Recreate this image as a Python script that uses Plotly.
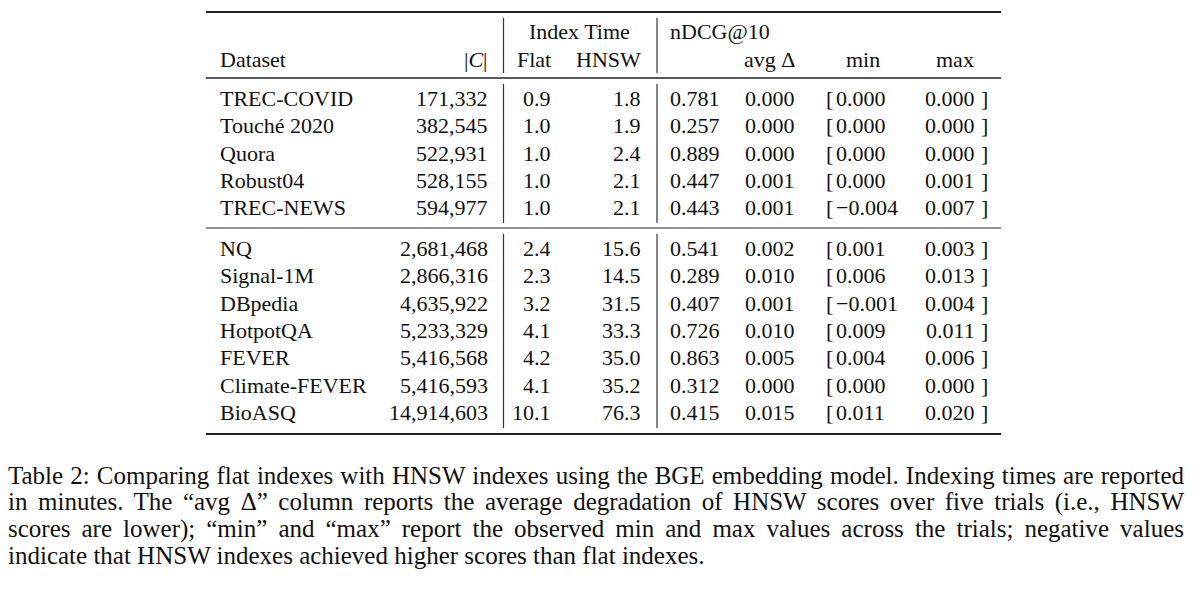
from plotly import graph_objects as go

# table contents
datasets = ['TREC-COVID', 'Touché 2020', 'Quora', 'Robust04', 'TREC-NEWS',
            'NQ', 'Signal-1M', 'DBpedia', 'HotpotQA', 'FEVER', 'Climate-FEVER', 'BioASQ']
corpus_size = ['171,332', '382,545', '522,931', '528,155', '594,977',
               '2,681,468', '2,866,316', '4,635,922', '5,233,329', '5,416,568', '5,416,593', '14,914,603']
flat_time = ['0.9', '1.0', '1.0', '1.0', '1.0', '2.4', '2.3', '3.2', '4.1', '4.2', '4.1', '10.1']
hnsw_time = ['1.8', '1.9', '2.4', '2.1', '2.1', '15.6', '14.5', '31.5', '33.3', '35.0', '35.2', '76.3']
ndcg = ['0.781', '0.257', '0.889', '0.447', '0.443', '0.541', '0.289', '0.407', '0.726', '0.863', '0.312', '0.415']
avg_delta = ['0.000', '0.000', '0.000', '0.001', '0.001', '0.002', '0.010', '0.001', '0.010', '0.005', '0.000', '0.015']
min_delta = ['0.000', '0.000', '0.000', '0.000', '\u22120.004', '0.001', '0.006', '\u22120.001', '0.009', '0.004', '0.000', '0.011']
max_delta = ['0.000', '0.000', '0.000', '0.001', '0.007', '0.003', '0.013', '0.004', '0.011', '0.006', '0.000', '0.020']

caption_lines = [
    'Table 2: Comparing flat indexes with HNSW indexes using the BGE embedding model. Indexing times are reported',
    'in minutes. The \u201cavg \u0394\u201d column reports the average degradation of HNSW scores over five trials (i.e., HNSW',
    'scores are lower); \u201cmin\u201d and \u201cmax\u201d report the observed min and max values across the trials; negative values',
    'indicate that HNSW indexes achieved higher scores than flat indexes.',
]

FONT = 'Liberation Serif, Times New Roman, DejaVu Serif, serif'
SIZE = 22
CAP_SIZE = 25
INK = '#111111'

W, H = 1200, 589
BODY_MARGIN = 8  # default page margin around the plot div
LEFT, RIGHT = 206, 1001
VLINES = [503.5, 657]
CAPTION_WIDTH = 1176  # justified paragraph width, in px


def row_y(i):
    # two groups of rows, small and large corpora, split by a rule
    y = 98.5 + i * 27.3
    if i >= 5:
        y += 13.5
    return y


anns = []


def txt(x, y, s, anchor='left', size=SIZE, xshift=0):
    anns.append(dict(x=x, y=y, xref='x', yref='y', text=s, showarrow=False,
                     xanchor=anchor, yanchor='middle', xshift=xshift, align=anchor,
                     font=dict(family=FONT, size=size, color=INK)))


# header
txt(579, 31, 'Index Time', 'center')
txt(668, 31, 'nDCG@10', 'left')
header_y = 59
txt(218, header_y, 'Dataset', 'left')
txt(490, header_y, '|<i>C</i>|', 'right')
txt(553, header_y, 'Flat', 'right')
txt(643, header_y, 'HNSW', 'right')
txt(797, header_y, 'avg \u0394', 'right')
txt(863, header_y, 'min', 'center')
txt(976, header_y, 'max', 'right')

# body
for i, name in enumerate(datasets):
    y = row_y(i)
    txt(218, y, name, 'left')
    txt(490, y, corpus_size[i], 'right')
    txt(553, y, flat_time[i], 'right')
    txt(643, y, hnsw_time[i], 'right')
    txt(668, y, ndcg[i], 'left')
    txt(797, y, avg_delta[i], 'right')
    txt(824, y, '[', 'left')
    txt(834, y, min_delta[i], 'left')
    txt(977, y, max_delta[i], 'right')
    txt(979, y, ']', 'left')

# caption (anchored at the left edge of the axis, nudged out by a couple of px)
for k, line in enumerate(caption_lines):
    txt(BODY_MARGIN, 475 + k * 26.8, line, 'left', CAP_SIZE, xshift=-2)

shapes = []
for y, w in [(12, 2), (78, 1.3), (228, 1), (434, 2)]:
    shapes.append(dict(type='line', xref='x', yref='y', x0=LEFT, x1=RIGHT, y0=y, y1=y,
                       line=dict(color='#222222', width=w)))
for x in VLINES:
    for y0, y1 in [(18, 73), (84, 223), (234, 428)]:
        shapes.append(dict(type='line', xref='x', yref='y', x0=x, x1=x, y0=y0, y1=y1,
                           line=dict(color='#333333', width=1.2)))

fig = go.Figure()
fig.update_layout(
    width=W - 2 * BODY_MARGIN, height=H - 2 * BODY_MARGIN,
    margin=dict(l=0, r=0, t=0, b=0, pad=0),
    paper_bgcolor='white', plot_bgcolor='white',
    xaxis=dict(range=[BODY_MARGIN, W - BODY_MARGIN], visible=False, fixedrange=True),
    yaxis=dict(range=[H - BODY_MARGIN, BODY_MARGIN], visible=False, fixedrange=True),
    annotations=anns, shapes=shapes, showlegend=False,
)

# stretch the word gaps of the long caption lines so the paragraph looks justified
justify_js = """
var gd = document.getElementById('{plot_id}');
gd.querySelectorAll('g.annotation text').forEach(function(t) {
    var len = t.getComputedTextLength();
    if (len > 1000) {
        var gaps = (t.textContent.match(/ /g) || []).length;
        if (gaps > 0) { t.style.wordSpacing = ((%d - len) / gaps) + 'px'; }
    }
});
""" % CAPTION_WIDTH

fig.write_html("out.html", config={'displayModeBar': False}, post_script=justify_js)
